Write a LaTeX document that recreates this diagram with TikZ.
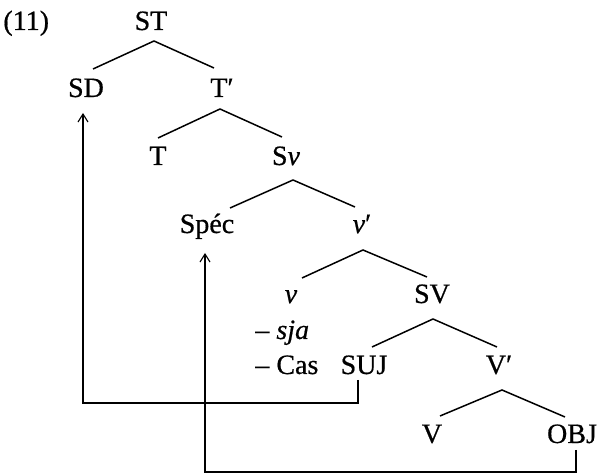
\documentclass[tikz,border=0pt]{standalone}
\usepackage{fontspec}
\setmainfont{Liberation Serif}[FakeBold=0.6]
\usetikzlibrary{calc,arrows.meta}
\begin{document}
\begin{tikzpicture}[x=0.5pt,y=-0.5pt,
  lab/.style={anchor=base,inner sep=0pt,font=\fontsize{14}{16}\selectfont},
  br/.style={line width=0.75pt},
  mv/.style={line width=0.55pt},
  mva/.style={mv,-{Straight Barb[length=4pt,width=5pt]}}]
\useasboundingbox (0,0) rectangle (602,475);
% labels
\node[lab,anchor=base west] (ex) at (3,30) {(11)};
\node[lab] (ST) at (151,30) {ST};
\node[lab] (SD) at (86,97) {SD};
\node[lab] (Tp) at (222,97) {T′};
\node[lab] (T) at (158,165) {T};
\node[lab] (Sv) at (286,165) {S\textit{v}};
\node[lab] (Spec) at (207,233) {Spéc};
\node[lab] (vp) at (362,233) {\textit{v}′};
\node[lab] (v) at (291,303) {\textit{v}};
\node[lab] (SV) at (432,303) {SV};
\node[lab,anchor=base west] (sja) at (255,339) {– \textit{sja}};
\node[lab,anchor=base west] (Cas) at (255,374) {– Cas};
\node[lab] (SUJ) at (364,374) {SUJ};
\node[lab] (Vp) at (499,374) {V′};
\node[lab] (V) at (432,443) {V};
\node[lab] (OBJ) at (572,443) {OBJ};
% branches
\draw[br] ($(SD.base)+(7,-28)$) -- ($(ST.base)+(3,11)$) -- ($(Tp.base)+(-8,-29)$);
\draw[br] ($(T.base)+(0,-27)$) -- ($(Tp.base)+(-2,12)$) -- ($(Sv.base)+(-4,-28)$);
\draw[br] ($(Spec.base)+(23,-25)$) -- ($(Sv.base)+(7,15)$) -- ($(vp.base)+(-7,-26)$);
\draw[br] ($(v.base)+(11,-25)$) -- ($(vp.base)+(1,17)$) -- ($(SV.base)+(-5,-26)$);
\draw[br] ($(SUJ.base)+(8,-27)$) -- ($(SV.base)+(1,16)$) -- ($(Vp.base)+(-2,-27)$);
\draw[br] ($(V.base)+(8,-27)$) -- ($(Vp.base)+(3,16)$) -- ($(OBJ.base)+(-7,-26)$);
% movement
\coordinate (m1) at ($(SUJ.base)+(-6,29)$);
\coordinate (m2) at ($(OBJ.base)+(4,29)$);
\draw[mva] ($(SUJ.base)+(-6,6)$) -- (m1) -| ($(SD.base)+(-3,16)$);
\draw[mva] ($(OBJ.base)+(4,7)$) -- (m2) -| ($(Spec.base)+(-2,20)$);
\end{tikzpicture}
\end{document}
